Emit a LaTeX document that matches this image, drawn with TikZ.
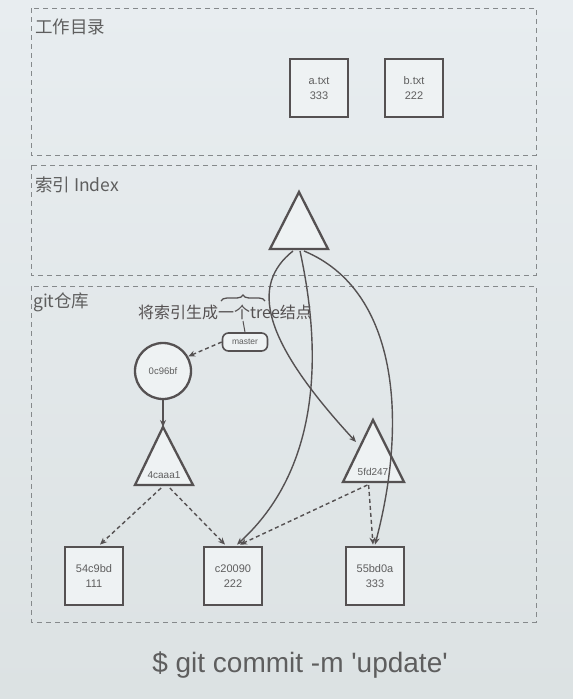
\documentclass[tikz,border=0pt]{standalone}
\usepackage{fontspec}
\setmainfont{Liberation Sans}
\newfontfamily\cjk{Noto Sans CJK SC}
\usetikzlibrary{arrows.meta,decorations.pathreplacing,calc}
\definecolor{bgtop}{HTML}{E8EDF0}
\definecolor{bgbot}{HTML}{DCE2E3}
\definecolor{ln}{HTML}{555152}
\definecolor{frame}{HTML}{85898B}
\definecolor{txt}{HTML}{5E5E5E}
\definecolor{boxfill}{HTML}{EEF2F3}
\begin{document}
\begin{tikzpicture}[x=1pt,y=-1pt,
  area/.style={draw=frame, dash pattern=on 5pt off 4pt, line width=1pt},
  arealabel/.style={anchor=west, font=\cjk\fontsize{17.5}{18}\selectfont, text=txt, inner sep=0pt},
  filebox/.style={draw=ln, line width=2.8pt, fill=boxfill, minimum width=58pt, minimum height=58pt, align=center, font=\fontsize{11}{15}\selectfont, text=txt, inner sep=1pt},
  tri/.style={draw=ln, line width=2.3pt, fill=boxfill, line join=miter},
  small/.style={font=\fontsize{10}{11}\selectfont, text=txt, inner sep=0pt},
  link/.style={draw=ln, line width=1.4pt, -{Stealth[length=7pt,width=6pt]}},
  dlink/.style={link, dash pattern=on 4pt off 3pt},
]
\shade[top color=bgtop, bottom color=bgbot] (0,0) rectangle (573,699);
\useasboundingbox (0,0) rectangle (573,699);

% areas
\draw[area] (31,8) rectangle (536,155);
\draw[area] (31,165) rectangle (536,275);
\draw[area] (31,286) rectangle (536,622);
\node[arealabel] (lwd) at (35,27) {工作目录};
\node[arealabel] (lidx) at (35,185) {索引 Index};
\node[arealabel] (lgit) at (33,302) {git仓库};

% working directory files
\node[filebox] (a) at (319,88) {a.txt\\333};
\node[filebox] (b) at (414,88) {b.txt\\222};

% index tree
\coordinate (it) at (299,192);
\coordinate (il) at (270,249);
\coordinate (ir) at (328,249);
\draw[tri] (it) -- (ir) -- (il) -- cycle;
\coordinate (ib1) at (293,251);
\coordinate (ib2) at (300,251);
\coordinate (ib3) at (304,251);

% repository objects
\node[draw=ln, line width=2.3pt, fill=boxfill, circle, minimum size=56pt, small, font=\fontsize{9.5}{10}\selectfont] (c) at (163,371) {0c96bf};
\node[draw=ln, line width=1.6pt, rounded corners=6pt, fill=boxfill, minimum width=45pt, minimum height=18pt, small, font=\fontsize{8.5}{9}\selectfont] (m) at (245,342) {master};

\coordinate (t1t) at (163,427);
\coordinate (t1l) at (135,485);
\coordinate (t1r) at (193,485);
\draw[tri] (t1t) -- (t1r) -- (t1l) -- cycle;
\node[small, anchor=south] (t1) at (164,479) {4caaa1};

\coordinate (t2t) at (373,420);
\coordinate (t2l) at (343,482);
\coordinate (t2r) at (404,482);
\draw[tri] (t2t) -- (t2r) -- (t2l) -- cycle;
\node[small, anchor=south] (t2) at (373,476) {5fd247};

\node[filebox] (b1) at (94,576) {54c9bd\\111};
\node[filebox] (b2) at (233,576) {c20090\\222};
\node[filebox] (b3) at (375,576) {55bd0a\\333};

% annotation
\node[font=\cjk\fontsize{16}{16}\selectfont, text=ln, inner sep=0pt] (note) at (225,312) {将索引生成一个tree结点};
\draw[ln, line width=1.3pt, decorate, decoration={brace, amplitude=6pt}] (221,301) -- (265,301);
\draw[ln, line width=1pt] (243,321) -- (m.north);

% connectors
\draw[dlink] (m.west) -- (c.30);
\draw[link] (c.south) -- (t1t);
\draw[dlink] ($(t1l)!0.45!(t1r)+(0,3)$) -- ($(b1.north)+(6,-1)$);
\draw[dlink] ($(t1l)!0.6!(t1r)+(0,3)$) -- ($(b2.north)+(-8,-1)$);
\draw[dlink] ($(t2l)!0.4!(t2r)+(0,3)$) -- ($(b2.north)+(7,-1)$);
\draw[dlink] ($(t2l)!0.42!(t2r)+(0,3)$) -- ($(b3.north)+(-2,-1)$);

\draw[link] (ib1) .. controls (250,285) and (262,340) .. (356,442);
\draw[link] (ib2) .. controls (328,380) and (308,480) .. ($(b2.north)+(4,-1)$);
\draw[link] (ib3) .. controls (398,290) and (408,420) .. ($(b3.north)+(0,-1)$);

% command
\node[font=\fontsize{28}{30}\selectfont, text=txt, inner sep=0pt] (cmd) at (300,665) {\$ git commit -m \textquotesingle update\textquotesingle};
\end{tikzpicture}
\end{document}
